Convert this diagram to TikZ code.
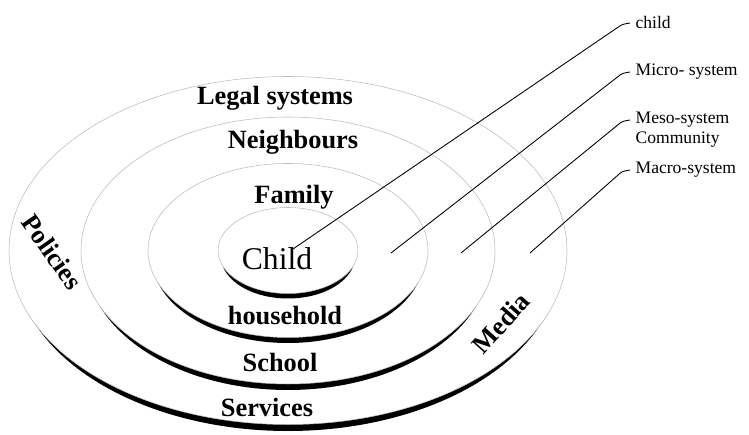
\documentclass[tikz,border=0pt]{standalone}
\usepackage{fontspec}
\setmainfont{Liberation Serif}

\begin{document}
\begin{tikzpicture}[
        disc/.style={fill=white, draw=gray!55, line width=0.3pt},
        discshadow/.style={fill=black},
        ring/.style={font=\fontsize{15}{18}\selectfont\bfseries, inner sep=0pt},
        leader/.style={line width=0.5pt, rounded corners=1.5pt},
        lbl/.style={font=\fontsize{10}{12}\selectfont, anchor=west, inner sep=3pt}
    ]
        \useasboundingbox (0,0) rectangle (14.98,8.7);
        \coordinate (O) at (5.76,3.69);

        % macro-system disc
        \fill[discshadow] ([yshift=-0.17cm]O) ellipse [x radius=5.46, y radius=3.44];
        \draw[disc] (O) ellipse [x radius=5.58, y radius=3.48];

        % meso-system disc
        \fill[discshadow] ([yshift=-0.15cm]O) ellipse [x radius=4.04, y radius=2.64];
        \draw[disc] (O) ellipse [x radius=4.14, y radius=2.67];

        % micro-system disc
        \fill[discshadow] ([yshift=-0.14cm]O) ellipse [x radius=2.72, y radius=1.71];
        \draw[disc] (O) ellipse [x radius=2.80, y radius=1.74];

        % child disc
        \fill[discshadow] ([yshift=-0.12cm]O) ellipse [x radius=1.34, y radius=0.84];
        \draw[disc] (O) ellipse [x radius=1.40, y radius=0.86];

        \node (child) at (5.54,3.52) {\fontsize{18}{20}\selectfont Child};
        \node[ring] (family) at (5.88,4.76) {Family};
        \node[ring] (neighbours) at (5.86,5.85) {Neighbours};
        \node[ring] (legal) at (5.50,6.73) {Legal systems};
        \node[ring] (household) at (5.70,2.38) {household};
        \node[ring] (school) at (5.60,1.45) {School};
        \node[ring] (services) at (5.34,0.55) {Services};
        \node[ring, rotate=-55] (policies) at (1.04,3.66) {Policies};
        \node[ring, rotate=48] (media) at (10.02,2.24) {Media};

        \node[lbl] (lblchild) at (12.60,8.24) {child};
        \node[lbl] (lblmicro) at (12.60,7.26) {Micro- system};
        \node[lbl] (lblmeso) at (12.60,6.30) {Meso-system};
        \node[lbl] (lblcomm) at (12.60,5.90) {Community};
        \node[lbl] (lblmacro) at (12.60,5.30) {Macro-system};

        \coordinate (childpt) at (5.86,3.72);
        \coordinate (micropt) at (7.82,3.64);
        \coordinate (mesopt) at (9.22,3.64);
        \coordinate (macropt) at (10.60,3.64);

        \draw[leader] (childpt) -- (12.44,8.21) -- (lblchild.west);
        \draw[leader] (micropt) -- (12.44,7.23) -- (lblmicro.west);
        \draw[leader] (mesopt) -- (12.44,6.27) -- (lblmeso.west);
        \draw[leader] (macropt) -- (12.44,5.27) -- (lblmacro.west);
    \end{tikzpicture}
\end{document}
